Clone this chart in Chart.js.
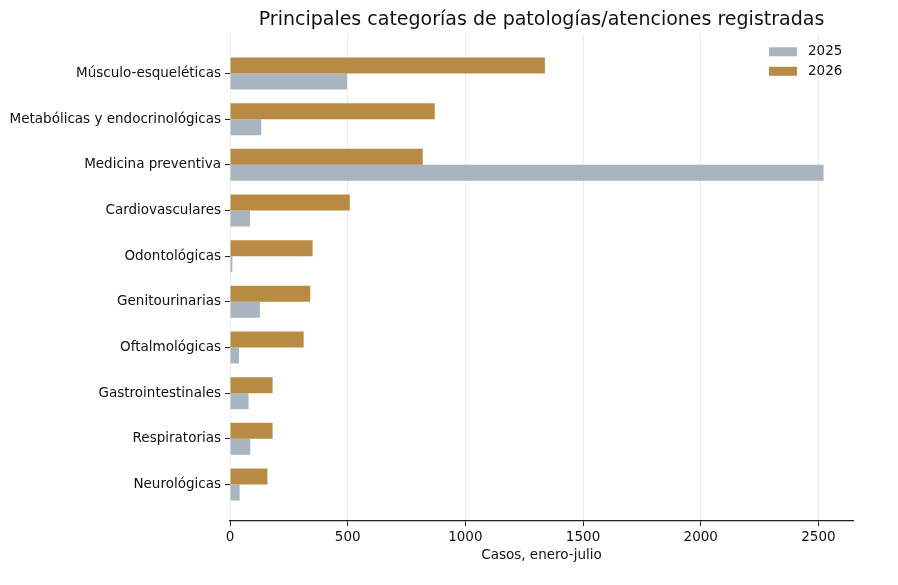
<!DOCTYPE html>
<html>
<head>
<meta charset="utf-8">
<script src="https://cdn.jsdelivr.net/npm/chart.js@4.4.1/dist/chart.umd.min.js"></script>
<style>
  body { margin: 0; background: #fff; }
  #wrap { width: 898px; height: 585px; }
</style>
</head>
<body>
<div id="wrap"><canvas id="barCat" width="898" height="585"></canvas></div>
<script>
const categories = [
  "Músculo-esqueléticas",
  "Metabólicas y endocrinológicas",
  "Medicina preventiva",
  "Cardiovasculares",
  "Odontológicas",
  "Genitourinarias",
  "Oftalmológicas",
  "Gastrointestinales",
  "Respiratorias",
  "Neurológicas"
];
const casos2025 = [497, 133, 2522, 85, 10, 127, 38, 79, 86, 41];
const casos2026 = [1338, 870, 819, 509, 351, 341, 313, 181, 181, 159];
const xTicks = [0, 500, 1000, 1500, 2000, 2500];

const FONT = "'DejaVu Sans', sans-serif";
const colorGris = '#a8b4bf';
const colorOro = '#b88b45';

// points with numeric y so the index scale can carry matplotlib-like margins
const toPoints = (vals) => vals.map((v, i) => ({ x: v, y: i }));

// small legend drawn in the upper right corner of the plot area
const cornerLegend = {
  id: 'cornerLegend',
  afterDraw(chart) {
    const { ctx, chartArea } = chart;
    const items = [
      { label: '2025', color: colorGris },
      { label: '2026', color: colorOro }
    ];
    ctx.save();
    ctx.font = '13.5px ' + FONT;
    ctx.textBaseline = 'middle';
    items.forEach((it, i) => {
      const y = chartArea.top + 18 + i * 19.5;
      ctx.fillStyle = it.color;
      ctx.fillRect(chartArea.right - 84, y - 4.5, 28, 9);
      ctx.fillStyle = '#111';
      ctx.fillText(it.label, chartArea.right - 45, y);
    });
    ctx.restore();
  }
};

const ctx = document.getElementById('barCat').getContext('2d');
new Chart(ctx, {
  type: 'bar',
  data: {
    datasets: [
      { label: '2026', data: toPoints(casos2026), backgroundColor: colorOro },
      { label: '2025', data: toPoints(casos2025), backgroundColor: colorGris }
    ]
  },
  options: {
    indexAxis: 'y',
    responsive: false,
    animation: false,
    categoryPercentage: 0.7,
    barPercentage: 1,
    layout: { padding: { top: 0, right: 45, bottom: 21, left: 0 } },
    plugins: {
      legend: { display: false },
      tooltip: { enabled: false },
      title: {
        display: true,
        text: 'Principales categorías de patologías/atenciones registradas',
        fullSize: false,
        color: '#111',
        font: { family: FONT, size: 19, weight: 'normal' },
        padding: { top: 9, bottom: 2 }
      }
    },
    scales: {
      x: {
        type: 'linear',
        min: 0,
        max: 2647,
        afterBuildTicks: (axis) => { axis.ticks = xTicks.map(v => ({ value: v })); },
        afterFit: (scale) => { scale.height = 43; },
        grid: { color: '#ececec', lineWidth: 1, tickColor: '#222', tickLength: 5 },
        border: { color: '#222', width: 1.3 },
        ticks: {
          color: '#111',
          font: { family: FONT, size: 13.5 },
          padding: 3,
          callback: (v) => String(v)
        },
        title: {
          display: true,
          text: 'Casos, enero-julio',
          color: '#111',
          font: { family: FONT, size: 13.5 },
          padding: { top: 0, bottom: 0 }
        }
      },
      y: {
        type: 'linear',
        reverse: true,
        offset: false,
        min: -0.87,
        max: 9.8,
        afterBuildTicks: (axis) => { axis.ticks = categories.map((_, i) => ({ value: i })); },
        afterFit: (scale) => { scale.width = 230; },
        grid: { offset: false, drawOnChartArea: false, tickColor: '#222', tickLength: 5 },
        border: { display: false },
        ticks: {
          color: '#111',
          font: { family: FONT, size: 13.5 },
          padding: 4,
          callback: (v) => categories[v]
        }
      }
    }
  },
  plugins: [cornerLegend]
});
</script>
</body>
</html>
